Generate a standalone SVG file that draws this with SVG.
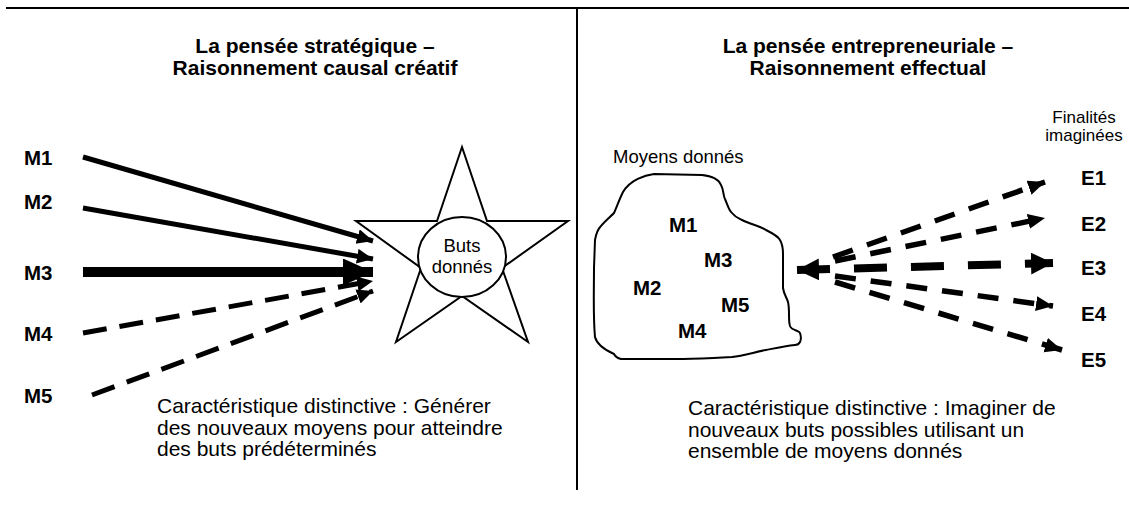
<svg xmlns="http://www.w3.org/2000/svg" width="1129" height="506" viewBox="0 0 1129 506">
<style>
text{font-family:"Liberation Sans",Arial,sans-serif;fill:#000}
.t{font-weight:bold;font-size:21px;text-anchor:middle}
.m{font-weight:bold;font-size:20.5px}
.c{font-size:21px}
.s{font-size:18.5px}
.sc{font-size:18.5px;text-anchor:middle}
.f{font-size:17px;text-anchor:middle}
.ln{fill:none;stroke:#000}
.sh{fill:#fff;stroke:#000;stroke-width:2}
</style>
<defs>
<marker id="hs" markerUnits="userSpaceOnUse" markerWidth="18" markerHeight="16" refX="16" refY="7.5" orient="auto"><path d="M0,0 L16,7.5 L0,15 z"/></marker>
<marker id="hr" markerUnits="userSpaceOnUse" markerWidth="19" markerHeight="16" refX="17" refY="7.5" orient="auto"><path d="M0,0 L17,7.5 L0,15 z"/></marker>
<marker id="hb" markerUnits="userSpaceOnUse" markerWidth="32" markerHeight="28" refX="30" refY="13.5" orient="auto"><path d="M0,0 L30,13.5 L0,27 z"/></marker>
<marker id="h3" markerUnits="userSpaceOnUse" markerWidth="24" markerHeight="24" refX="22" refY="11" orient="auto-start-reverse"><path d="M0,0 L22,11 L0,22 z"/></marker>
</defs>
<g id="frame">
<line x1="6" y1="8" x2="1129" y2="8" stroke="#000" stroke-width="2"/>
<line x1="577" y1="8" x2="577" y2="490" stroke="#000" stroke-width="2"/>
</g>
<g id="title-left"><text class="t" x="315" y="53">La pensée stratégique –</text><text class="t" x="315" y="75">Raisonnement causal créatif</text></g>
<g id="title-right"><text class="t" x="868" y="53">La pensée entrepreneuriale –</text><text class="t" x="868" y="75">Raisonnement effectual</text></g>
<g id="M1-left"><text class="m" x="24" y="165">M1</text></g>
<g id="M2-left"><text class="m" x="24" y="208.5">M2</text></g>
<g id="M3-left"><text class="m" x="24" y="280">M3</text></g>
<g id="M4-left"><text class="m" x="24" y="341">M4</text></g>
<g id="M5-left"><text class="m" x="24" y="403">M5</text></g>
<g id="buts-donnes">
<polygon class="sh" points="462,147 487,221 568,221 502,268 528,342 462,296 396,342 421,268 356,221 437,221"/>
<ellipse class="sh" cx="462" cy="257" rx="44" ry="40" stroke-width="1.6"/>
<text class="sc" x="462" y="251.5">Buts</text>
<text class="sc" x="462" y="273">donnés</text>
</g>
<g id="caption-left">
<text class="c" x="157" y="413">Caractéristique distinctive : Générer</text>
<text class="c" x="157" y="434.5">des nouveaux moyens pour atteindre</text>
<text class="c" x="157" y="456">des buts prédéterminés</text>
</g>
<g id="moyens-donnes">
<text class="s" x="613" y="163">Moyens donnés</text>
<path class="ln" stroke-width="2" stroke-linejoin="round" d="M623,192 C630,180 645,175 654,174 L702,175 C712,176 719,180 721,185 C724,190 723,196 725,199 C728,206 729,211 732,213 C735,217 738,218 742,220 C750,224 760,226 766,230 C772,233 778,236 780,240 C783,245 783,250 783,254 L783,288 C784,295 787,298 788,302 C790,310 788,320 790,326 C792,331 799,330 800,333 C801,336 801,340 800,342 C799,344 797,345 795,345 C785,346 776,348 766,350 C755,352 743,356 732,357 C715,358 700,359 683,359 L621,359 C617,358 615,356 614,354 C605,350 597,345 595,337 C593,315 594,290 594,268 L595,240 C596,234 598,229 601,226 C605,221 610,217 614,213 C617,206 620,198 623,192 Z"/>
<text class="m" x="669" y="231.5">M1</text>
<text class="m" x="704" y="267">M3</text>
<text class="m" x="633" y="294.5">M2</text>
<text class="m" x="721" y="312">M5</text>
<text class="m" x="678" y="338">M4</text>
</g>
<g id="finalites"><text class="f" x="1084" y="122.5">Finalités</text><text class="f" x="1084" y="141">imaginées</text></g>
<g id="E1"><text class="m" x="1081" y="185">E1</text></g>
<g id="E2"><text class="m" x="1081" y="230.5">E2</text></g>
<g id="E3"><text class="m" x="1081" y="274.5">E3</text></g>
<g id="E4"><text class="m" x="1081" y="321">E4</text></g>
<g id="E5"><text class="m" x="1081" y="367">E5</text></g>
<g id="caption-right">
<text class="c" x="688" y="415">Caractéristique distinctive : Imaginer de</text>
<text class="c" x="688" y="436.5">nouveaux buts possibles utilisant un</text>
<text class="c" x="688" y="458">ensemble de moyens donnés</text>
</g>
<g id="connectors">
<line class="ln" x1="83" y1="157" x2="373" y2="241" stroke-width="5" marker-end="url(#hs)"/>
<line class="ln" x1="83" y1="208" x2="373" y2="259" stroke-width="5" marker-end="url(#hs)"/>
<line class="ln" x1="83" y1="272" x2="373" y2="272" stroke-width="10" marker-end="url(#hb)"/>
<line class="ln" x1="83" y1="333" x2="373" y2="281" stroke-width="5" stroke-dasharray="24 13" marker-end="url(#hs)"/>
<line class="ln" x1="92" y1="395" x2="373" y2="291" stroke-width="5" stroke-dasharray="24 13" marker-end="url(#hs)"/>
<line class="ln" x1="833" y1="257" x2="1045" y2="182" stroke-width="5.5" stroke-dasharray="21 15" marker-end="url(#hr)"/>
<line class="ln" x1="835" y1="261" x2="1045" y2="218" stroke-width="5.5" stroke-dasharray="21 15" marker-end="url(#hr)"/>
<line class="ln" x1="797" y1="270" x2="1053" y2="263" stroke-width="8" stroke-dasharray="33 24" marker-start="url(#h3)" marker-end="url(#h3)"/>
<line class="ln" x1="835" y1="276" x2="1053" y2="306" stroke-width="5.5" stroke-dasharray="21 15" marker-end="url(#hr)"/>
<line class="ln" x1="835" y1="282" x2="1062" y2="350" stroke-width="5.5" stroke-dasharray="21 15" marker-end="url(#hr)"/>
</g>
</svg>
